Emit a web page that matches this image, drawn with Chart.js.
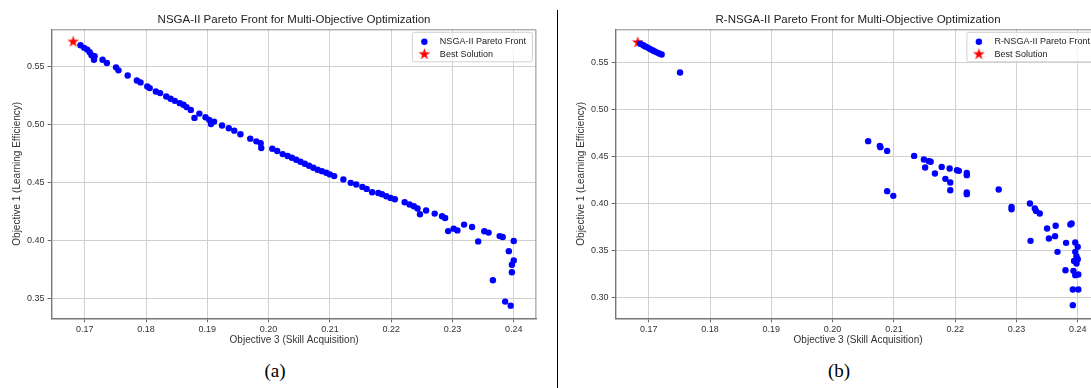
<!DOCTYPE html>
<html>
<head>
<meta charset="utf-8">
<title>Pareto fronts</title>
<script src="https://cdn.jsdelivr.net/npm/chart.js@4.4.1/dist/chart.umd.min.js"></script>
<style>
  html, body { margin: 0; padding: 0; background: #fff; }
  #page { position: relative; width: 1091px; height: 388px; overflow: hidden; background: #fff; }
  .plot { position: absolute; top: 0; }
  #divider { position: absolute; left: 557px; top: 10px; width: 1px; height: 378px; background: #000; z-index: 2; }
  .caption { position: absolute; top: 361px; width: 60px; text-align: center; font-family: 'Liberation Serif', 'Times New Roman', serif; font-size: 19px; line-height: 19px; color: #000; }
</style>
</head>
<body>
<div id="page">
  <canvas id="chartA" class="plot" style="left:0px" width="588" height="360"></canvas>
  <canvas id="chartB" class="plot" style="left:564px" width="588" height="360"></canvas>
  <div id="divider"></div>
  <div class="caption" style="left:245px">(a)</div>
  <div class="caption" style="left:809px">(b)</div>
</div>
<script>
// values: x = objective 3, y = objective 1
const nsgaSkill = [
  0.1693, 0.1699, 0.1704, 0.1708, 0.1711, 0.1716, 0.1715, 0.1729, 0.1736, 0.1751,
  0.1755, 0.1770, 0.1785, 0.1791, 0.1802, 0.1806, 0.1816, 0.1823, 0.1833, 0.1840,
  0.1847, 0.1855, 0.1861, 0.1866, 0.1873, 0.1879, 0.1887, 0.1897, 0.1903, 0.1906,
  0.1911, 0.1924, 0.1935, 0.1944, 0.1954, 0.1970, 0.1980, 0.1987, 0.1988, 0.2006,
  0.2014, 0.2023, 0.2031, 0.2038, 0.2045, 0.2052, 0.2059, 0.2066, 0.2073, 0.2080,
  0.2087, 0.2094, 0.2100, 0.2107, 0.2122, 0.2134, 0.2143, 0.2153, 0.2160, 0.2169,
  0.2179, 0.2185, 0.2192, 0.2199, 0.2206, 0.2222, 0.2230, 0.2237, 0.2243, 0.2247,
  0.2257, 0.2271, 0.2283, 0.2288, 0.2293, 0.2302, 0.2308, 0.2319, 0.2332, 0.2342,
  0.2352, 0.2359, 0.2377, 0.2382, 0.2400, 0.2392, 0.2400, 0.2397, 0.2397, 0.2366,
  0.2386, 0.2395
];
const nsgaLearn = [
  0.5686, 0.5664, 0.5649, 0.5626, 0.5600, 0.5591, 0.5562, 0.5562, 0.5534, 0.5496,
  0.5470, 0.5426, 0.5383, 0.5366, 0.5331, 0.5317, 0.5288, 0.5274, 0.5245, 0.5225,
  0.5207, 0.5187, 0.5173, 0.5153, 0.5129, 0.5060, 0.5097, 0.5066, 0.5043, 0.5008,
  0.5028, 0.4994, 0.4971, 0.4950, 0.4919, 0.4881, 0.4858, 0.4841, 0.4800, 0.4794,
  0.4774, 0.4748, 0.4731, 0.4716, 0.4699, 0.4682, 0.4665, 0.4647, 0.4630, 0.4613,
  0.4601, 0.4587, 0.4573, 0.4558, 0.4529, 0.4500, 0.4486, 0.4465, 0.4448, 0.4419,
  0.4413, 0.4402, 0.4385, 0.4370, 0.4359, 0.4333, 0.4313, 0.4298, 0.4279, 0.4229,
  0.4261, 0.4235, 0.4212, 0.4197, 0.4084, 0.4105, 0.4090, 0.4140, 0.4119, 0.3995,
  0.4082, 0.4071, 0.4041, 0.4033, 0.3998, 0.3911, 0.3831, 0.3794, 0.3729, 0.3660,
  0.3476, 0.3441
];
const rnsgaSkill = [
  0.1686, 0.1691, 0.1694, 0.1698, 0.1702, 0.1706, 0.1709, 0.1713, 0.1717, 0.1721,
  0.1751, 0.2058, 0.2077, 0.2078, 0.2089, 0.2089, 0.2099, 0.2133, 0.2149, 0.2157,
  0.2160, 0.2151, 0.2167, 0.2178, 0.2191, 0.2184, 0.2192, 0.2192, 0.2203, 0.2206,
  0.2219, 0.2219, 0.2219, 0.2219, 0.2271, 0.2292, 0.2292, 0.2322, 0.2330, 0.2332,
  0.2338, 0.2323, 0.2350, 0.2353, 0.2364, 0.2363, 0.2367, 0.2381, 0.2380, 0.2388,
  0.2390, 0.2396, 0.2400, 0.2398, 0.2400, 0.2394, 0.2398, 0.2393, 0.2396, 0.2401,
  0.2392, 0.2401, 0.2392, 0.2396
];
const rnsgaLearn = [
  0.5697, 0.5681, 0.5668, 0.5656, 0.5640, 0.5628, 0.5617, 0.5605, 0.5593, 0.5582,
  0.5390, 0.4660, 0.4610, 0.4596, 0.4556, 0.4128, 0.4078, 0.4503, 0.4465, 0.4447,
  0.4440, 0.4380, 0.4316, 0.4386, 0.4369, 0.4259, 0.4220, 0.4138, 0.4351, 0.4344,
  0.4322, 0.4298, 0.4114, 0.4096, 0.4146, 0.3961, 0.3936, 0.3997, 0.3944, 0.3918,
  0.3890, 0.3599, 0.3731, 0.3624, 0.3759, 0.3649, 0.3482, 0.3578, 0.3287, 0.3773,
  0.3784, 0.3582, 0.3535, 0.3436, 0.3404, 0.3386, 0.3358, 0.3280, 0.3234, 0.3241,
  0.3082, 0.3082, 0.2915, 0.3482
];
const nsgaBest = { x: 0.1681, y: 0.5716 };
const rnsgaBest = { x: 0.1682, y: 0.5710 };

const skillTicks = [0.17, 0.18, 0.19, 0.20, 0.21, 0.22, 0.23, 0.24];
const learnTicksA = [0.35, 0.40, 0.45, 0.50, 0.55];
const learnTicksB = [0.30, 0.35, 0.40, 0.45, 0.50, 0.55];

const BLUE = '#0000ff';
const RED = '#ff0000';

Chart.defaults.font.family = "'Liberation Sans', Arial, sans-serif";
Chart.defaults.color = '#333';

// filled five point star like matplotlib's '*' marker
function makeStar(R) {
  const size = Math.ceil(R * 2 + 2);
  const c = document.createElement('canvas');
  c.width = size;
  c.height = size;
  const g = c.getContext('2d');
  g.fillStyle = RED;
  g.beginPath();
  for (let i = 0; i < 10; i++) {
    const r = i % 2 ? R * 0.382 : R;
    const a = -Math.PI / 2 + i * Math.PI / 5;
    g.lineTo(size / 2 + r * Math.cos(a), size / 2 + r * Math.sin(a));
  }
  g.closePath();
  g.fill();
  return c;
}
const starImg = makeStar(6.2);

// top/right spines plus a matplotlib style legend inside the axes
const frameLegend = {
  id: 'frameLegend',
  afterDatasetsDraw(chart, args, opts) {
    const { ctx, chartArea: a } = chart;
    ctx.save();
    ctx.strokeStyle = '#8a8a8a';
    ctx.lineWidth = 1;
    ctx.beginPath();
    ctx.moveTo(a.left, a.top + 0.5);
    ctx.lineTo(a.right - 0.5, a.top + 0.5);
    ctx.lineTo(a.right - 0.5, a.bottom);
    ctx.stroke();

    ctx.font = "9px 'Liberation Sans', Arial, sans-serif";
    const tw = Math.max(...opts.labels.map(t => ctx.measureText(t).width));
    const w = tw + 34, h = 29.5;
    const x0 = a.right - 4 - w, y0 = a.top + 3;
    ctx.beginPath();
    ctx.roundRect(x0, y0, w, h, 2);
    ctx.fillStyle = 'rgba(255,255,255,0.8)';
    ctx.fill();
    ctx.strokeStyle = '#d0d0d0';
    ctx.stroke();

    ctx.fillStyle = BLUE;
    ctx.beginPath();
    ctx.arc(x0 + 12, y0 + 9.5, 3.2, 0, Math.PI * 2);
    ctx.fill();
    ctx.drawImage(starImg, x0 + 12 - starImg.width / 2, y0 + 22 - starImg.height / 2);

    ctx.fillStyle = '#222';
    ctx.textBaseline = 'middle';
    ctx.fillText(opts.labels[0], x0 + 27.5, y0 + 9.5);
    ctx.fillText(opts.labels[1], x0 + 27.5, y0 + 22);
    ctx.restore();
  }
};

function makeChart(id, title, frontLabel, xs, ys, best, yTicks, yMin, yMax) {
  const grid = { color: '#d0d0d0', lineWidth: 1, tickLength: 4, tickColor: '#666', tickWidth: 1 };
  return new Chart(document.getElementById(id), {
    type: 'scatter',
    data: {
      datasets: [
        {
          label: frontLabel,
          data: xs.map((x, i) => ({ x, y: ys[i] })),
          backgroundColor: BLUE,
          borderWidth: 0,
          pointRadius: 3.2,
          pointHoverRadius: 3.2
        },
        {
          label: 'Best Solution',
          data: [best],
          pointStyle: starImg,
          pointRadius: 6,
          pointHoverRadius: 6
        }
      ]
    },
    options: {
      responsive: false,
      animation: false,
      events: [],
      layout: { padding: { left: 0, right: 51.6, top: 0, bottom: 0 } },
      plugins: {
        legend: { display: false },
        tooltip: { enabled: false },
        title: {
          display: true,
          fullSize: false,
          text: title,
          color: '#222',
          font: { size: 11.5, weight: 'normal' },
          padding: { top: 13, bottom: 2.5 }
        },
        frameLegend: { labels: [frontLabel, 'Best Solution'] }
      },
      scales: {
        x: {
          type: 'linear',
          min: 0.1646,
          max: 0.2437,
          afterBuildTicks: s => { s.ticks = skillTicks.map(v => ({ value: v })); },
          afterFit: s => { s.height = 41.7; },
          ticks: { autoSkip: false, maxRotation: 0, padding: 1.5, color: '#333', font: { size: 9 }, callback: v => v.toFixed(2) },
          grid: grid,
          border: { color: '#777', width: 1.4 },
          title: { display: true, text: 'Objective 3 (Skill Acquisition)', color: '#333', font: { size: 10 }, padding: { top: 0, bottom: 14 } }
        },
        y: {
          type: 'linear',
          min: yMin,
          max: yMax,
          afterBuildTicks: s => { s.ticks = yTicks.map(v => ({ value: v })); },
          afterFit: s => { s.width = 51.7; },
          ticks: { autoSkip: false, padding: 3.3, color: '#333', font: { size: 9 }, callback: v => v.toFixed(2) },
          grid: grid,
          border: { color: '#777', width: 1.4 },
          title: { display: true, text: 'Objective 1 (Learning Efficiency)', color: '#333', font: { size: 10 }, padding: { top: 11, bottom: 0 } }
        }
      }
    },
    plugins: [frameLegend]
  });
}

makeChart('chartA', 'NSGA-II Pareto Front for Multi-Objective Optimization', 'NSGA-II Pareto Front',
  nsgaSkill, nsgaLearn, nsgaBest, learnTicksA, 0.3332, 0.5824);
makeChart('chartB', 'R-NSGA-II Pareto Front for Multi-Objective Optimization', 'R-NSGA-II Pareto Front',
  rnsgaSkill, rnsgaLearn, rnsgaBest, learnTicksB, 0.2775, 0.5850);
</script>
</body>
</html>
